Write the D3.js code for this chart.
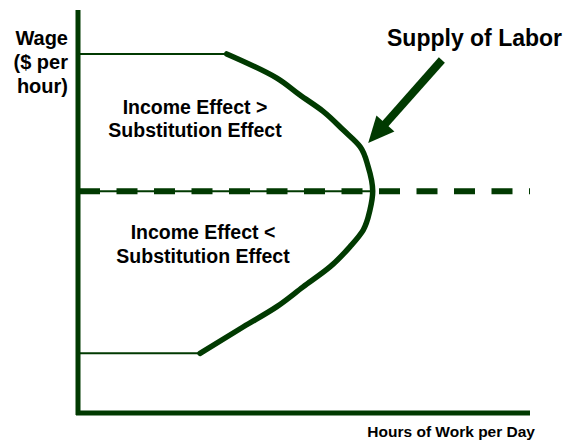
<!DOCTYPE html>
<html>
<head>
  <meta charset="utf-8">
  <title>Supply of Labor</title>
  <script src="https://cdn.jsdelivr.net/npm/d3@7/dist/d3.min.js"></script>
  <style>
    body { margin:0; background:#fff; }
    svg text { font-family:"Liberation Sans", Arial, sans-serif; font-weight:700; fill:#000; }
  </style>
</head>
<body>
<script>
// backward-bending labour supply curve (0-100 units)
var supplyHours = [27, 36.6, 44, 49.8, 55.8, 60.2, 63.1, 64.6, 65.2, 64.2, 62.4, 58.7, 54.3, 49.1, 44, 32.9];
var supplyWage  = [14.8, 21.4, 26.4, 31.3, 36.3, 41.3, 45.4, 50.4, 55, 61.1, 66.1, 70.2, 74.8, 78.9, 83.1, 89.1];

var turningWage = 55;      // wage where the curve bends back (dashed line)
var floorWage = 14.8;      // flat part at the bottom
var ceilWage = 89.1;       // flat part at the top

var yLabel = ['Wage', '($ per', 'hour)'];
var xLabel = 'Hours of Work per Day';
var curveLabel = 'Supply of Labor';
var upperLabel = ['Income Effect >', 'Substitution Effect'];
var lowerLabel = ['Income Effect <', 'Substitution Effect'];

// arrow from the curve label to the curve
var arrowFrom = [80.5, 87.6];
var arrowTo = [64.2, 67];

var green = '#013a01';

var svg = d3.select('body').append('svg')
  .attr('width', 568)
  .attr('height', 440);

var x = d3.scaleLinear().domain([0, 100]).range([78, 530]);
var y = d3.scaleLinear().domain([0, 100]).range([413, 10]);

// thin flat lines
svg.append('line')
  .attr('x1', x(0)).attr('x2', x(supplyHours[supplyHours.length - 1]))
  .attr('y1', y(ceilWage)).attr('y2', y(ceilWage))
  .attr('stroke', green).attr('stroke-width', 2);

svg.append('line')
  .attr('x1', x(0)).attr('x2', x(supplyHours[0]))
  .attr('y1', y(floorWage)).attr('y2', y(floorWage))
  .attr('stroke', green).attr('stroke-width', 2);

// dashed line at the turning point, thin solid under it up to the curve
svg.append('line')
  .attr('x1', x(0)).attr('x2', x(d3.max(supplyHours)))
  .attr('y1', y(turningWage)).attr('y2', y(turningWage))
  .attr('stroke', green).attr('stroke-width', 2);

svg.append('line')
  .attr('x1', x(0) + 1).attr('x2', x(100))
  .attr('y1', y(turningWage)).attr('y2', y(turningWage))
  .attr('stroke', green).attr('stroke-width', 6)
  .attr('stroke-dasharray', '21,16.5');

// supply curve (wage always rises along it, so monotone in y)
var line = d3.line()
  .x(function(d, i) { return x(supplyHours[i]); })
  .y(function(d, i) { return y(supplyWage[i]); })
  .curve(d3.curveMonotoneY);

svg.append('path')
  .attr('d', line(supplyHours))
  .attr('fill', 'none')
  .attr('stroke', green)
  .attr('stroke-width', 5.5)
  .attr('stroke-linecap', 'round');

// axes
svg.append('line')
  .attr('x1', x(0)).attr('x2', x(0))
  .attr('y1', y(100)).attr('y2', y(0) + 2)
  .attr('stroke', green).attr('stroke-width', 5);

svg.append('line')
  .attr('x1', x(0) - 2).attr('x2', x(100))
  .attr('y1', y(0)).attr('y2', y(0))
  .attr('stroke', green).attr('stroke-width', 5);

// arrow
var tx = x(arrowTo[0]), ty = y(arrowTo[1]);
var fx = x(arrowFrom[0]), fy = y(arrowFrom[1]);
var len = Math.sqrt((tx - fx) * (tx - fx) + (ty - fy) * (ty - fy));
var ux = (tx - fx) / len, uy = (ty - fy) / len;
var bx = tx - 26 * ux, by = ty - 26 * uy;

svg.append('line')
  .attr('x1', fx).attr('y1', fy)
  .attr('x2', bx + 2 * ux).attr('y2', by + 2 * uy)
  .attr('stroke', green).attr('stroke-width', 8);

svg.append('polygon')
  .attr('points', [[tx, ty], [bx - 12 * uy, by + 12 * ux], [bx + 12 * uy, by - 12 * ux]].join(' '))
  .attr('fill', green);

// texts
svg.append('g').selectAll('text')
  .data(yLabel).enter().append('text')
  .attr('x', 68)
  .attr('y', function(d, i) { return 45 + i * 24; })
  .attr('text-anchor', 'end')
  .style('font-size', '20px')
  .text(function(d) { return d; });

svg.append('text')
  .attr('x', 387).attr('y', 46)
  .style('font-size', '23px')
  .text(curveLabel);

svg.append('g').selectAll('text')
  .data(upperLabel).enter().append('text')
  .attr('x', 195)
  .attr('y', function(d, i) { return 114 + i * 23; })
  .attr('text-anchor', 'middle')
  .style('font-size', '19.5px')
  .text(function(d) { return d; });

svg.append('g').selectAll('text')
  .data(lowerLabel).enter().append('text')
  .attr('x', 203)
  .attr('y', function(d, i) { return 239 + i * 24; })
  .attr('text-anchor', 'middle')
  .style('font-size', '19.5px')
  .text(function(d) { return d; });

svg.append('text')
  .attr('x', 535).attr('y', 437)
  .attr('text-anchor', 'end')
  .style('font-size', '15.5px')
  .text(xLabel);
</script>
</body>
</html>
